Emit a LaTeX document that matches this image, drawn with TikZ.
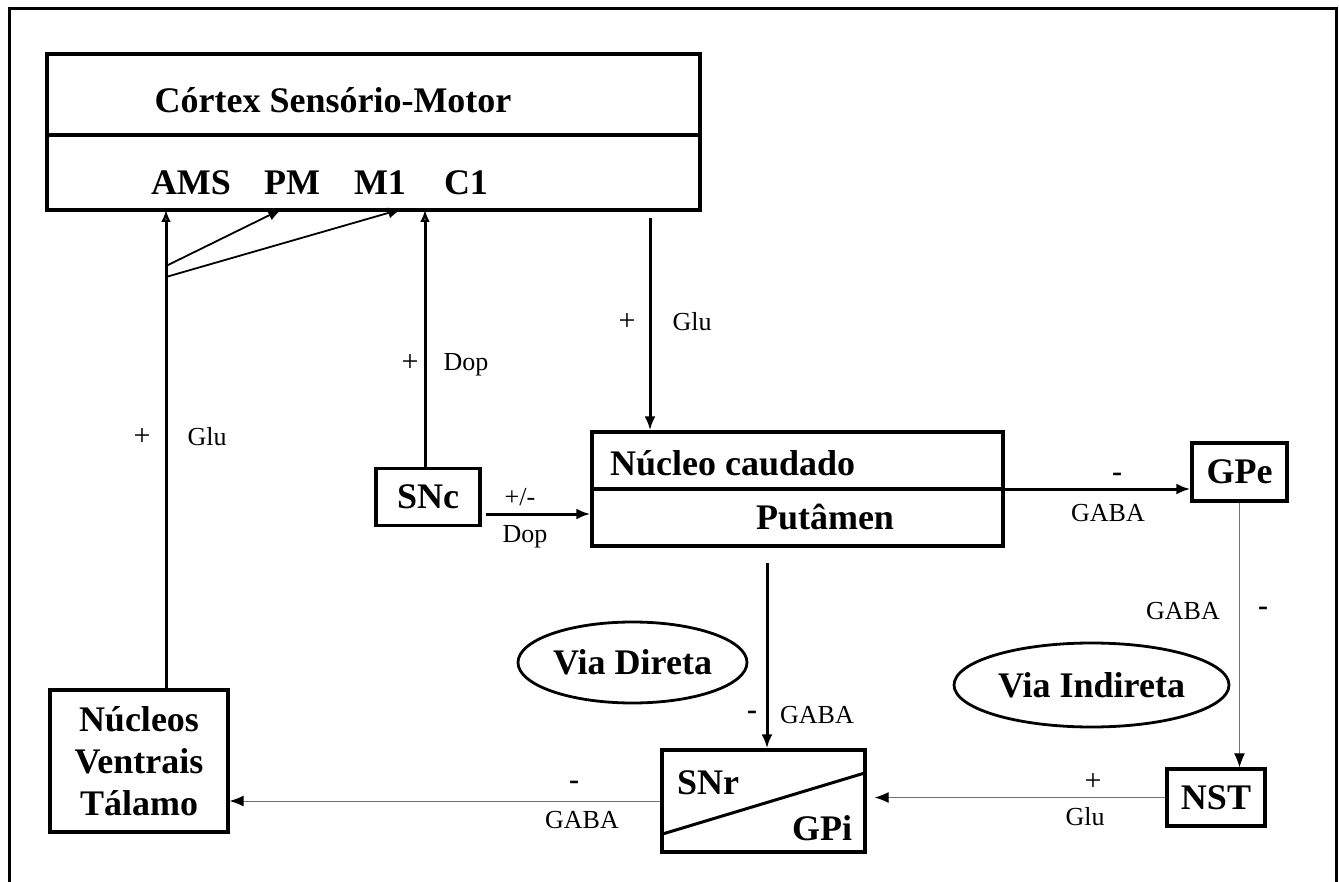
\documentclass[tikz,border=0pt]{standalone}
\usepackage{fontspec}
\setmainfont{Liberation Serif}
\usepackage{tikz}
\usetikzlibrary{arrows.meta,calc,positioning,shapes.geometric}

\begin{document}
\begin{tikzpicture}[x=0.5pt,y=-0.5pt,
  box/.style={draw,line width=1.7pt,inner sep=0pt},
  bigtxt/.style={font=\bfseries\fontsize{18}{21}\selectfont},
  smalltxt/.style={font=\fontsize{13}{15}\selectfont},
  signtxt/.style={font=\fontsize{15}{15}\selectfont},
  thickarr/.style={line width=1.5pt,-{Latex[length=7pt,width=5.5pt]}},
  openarr/.style={line width=1.5pt,-{Latex[open,length=6pt,width=5pt]}},
  midarr/.style={line width=0.9pt,-{Latex[length=7pt,width=5.5pt]}},
  thinarr/.style={line width=0.5pt,draw=black!55,-{Latex[length=7pt,width=5.5pt,color=black]}},
  via/.style={ellipse,draw,line width=1.4pt,inner sep=0pt,bigtxt}]
  \useasboundingbox (0,0) rectangle (1339,882);
  \draw[line width=1.5pt] (9,882) -- (9,9) -- (1336,9) -- (1336,882);

  % cortex
  \node[box,minimum width=326.5pt,minimum height=78pt] (cortex) at (373.5,132) {};
  \coordinate (divy) at (0,135);
  \draw[line width=1.7pt] (cortex.west |- divy) -- (cortex.east |- divy);
  \node[bigtxt] (ctitle) at (333,100) {Córtex Sensório-Motor};
  \node[bigtxt] (ams) at (191,183) {AMS};
  \node[bigtxt] (pm) at (292,183) {PM};
  \node[bigtxt] (mone) at (380,183) {M1};
  \node[bigtxt] (cone) at (466,183) {C1};
  \coordinate (amsin) at (166,210);
  \coordinate (pmin) at (282,209);
  \coordinate (monein) at (402,209);
  \coordinate (conein) at (425,210);
  \coordinate (brancha) at (166,266);
  \coordinate (branchb) at (166,277);

  % thalamus
  \node[box,bigtxt,align=center,minimum width=89pt,minimum height=71pt] (thal) at (139,761) {Núcleos\\Ventrais\\Tálamo};
  \draw[openarr] (thal.north -| amsin) -- (amsin);
  \draw[midarr] (brancha) -- (pmin);
  \draw[midarr] (branchb) -- (monein);
  \node[signtxt] (thplus) at (142,437) {+};
  \node[smalltxt] (thglu) at (207,437) {Glu};

  % SNc
  \node[box,bigtxt,minimum width=52pt,minimum height=28.5pt] (snc) at (428,497) {SNc};
  \draw[openarr] (snc.north -| conein) -- (conein);
  \node[signtxt] (dopplus) at (410,363) {+};
  \node[smalltxt] (dopa) at (466,365) {Dop};

  % putamen
  \node[box,minimum width=205.5pt,minimum height=57pt] (put) at (797.5,489) {};
  \draw[line width=1.7pt] (put.west) -- (put.east);
  \node[bigtxt,anchor=west] (caud) at (603,463) {Núcleo caudado};
  \node[bigtxt] (ptm) at (825,517) {Putâmen};
  \coordinate (cxout) at (650,218);
  \draw[thickarr] (cxout) -- (cxout |- put.north);
  \node[signtxt] (cxplus) at (627,322) {+};
  \node[smalltxt] (cxglu) at (692,322) {Glu};
  \coordinate (dopy) at (0,514);
  \draw[thickarr] ([xshift=2pt]snc.east |- dopy) -- (put.west |- dopy);
  \node[smalltxt] (pmdop) at (520,497) {+/-};
  \node[smalltxt] (dopb) at (525,537) {Dop};

  % GPe and NST
  \node[box,bigtxt,minimum width=47.5pt,minimum height=29pt] (gpe) at (1239.5,472) {GPe};
  \draw[thickarr] (put.east) -- (put.east -| gpe.west);
  \node[signtxt] (gpeminus) at (1117,477) {\textbf{-}};
  \node[smalltxt] (gpegaba) at (1108,513) {GABA};
  \node[box,bigtxt,minimum width=49pt,minimum height=28.5pt] (nst) at (1216,797.5) {NST};
  \draw[thinarr] (gpe.south) -- (gpe.south |- nst.north);
  \node[smalltxt] (nstgaba) at (1183,611) {GABA};
  \node[signtxt] (nstminus) at (1263,611) {\textbf{-}};

  % SNr / GPi
  \node[box,minimum width=101.5pt,minimum height=51pt] (snr) at (763.5,801) {};
  \draw[line width=1.5pt] ($(snr.south west)+(0,-19)$) -- ($(snr.north east)+(-3,25)$);
  \node[bigtxt] (snrlbl) at (708,783) {SNr};
  \node[bigtxt] (gpilbl) at (822,828) {GPi};
  \coordinate (putout) at (767,563);
  \draw[thickarr] (putout) -- (putout |- snr.north);
  \node[signtxt] (snrminus) at (752,715) {\textbf{-}};
  \node[smalltxt] (snrgaba) at (817,715) {GABA};
  \draw[thinarr] (nst.west) -- ([xshift=4pt]snr.east |- nst.west);
  \node[signtxt] (nstplus) at (1093,782) {+};
  \node[smalltxt] (nstglu) at (1085,817) {Glu};
  \draw[thinarr] (snr.west) -- (snr.west -| thal.east);
  \node[signtxt] (thminus) at (574,785) {\textbf{-}};
  \node[smalltxt] (thgaba) at (582,820) {GABA};

  % pathways
  \node[via,minimum width=114.5pt,minimum height=40.5pt] (vdir) at (632.5,662.5) {Via Direta};
  \node[via,minimum width=137.5pt,minimum height=42pt] (vind) at (1091.5,685) {Via Indireta};
\end{tikzpicture}
\end{document}
